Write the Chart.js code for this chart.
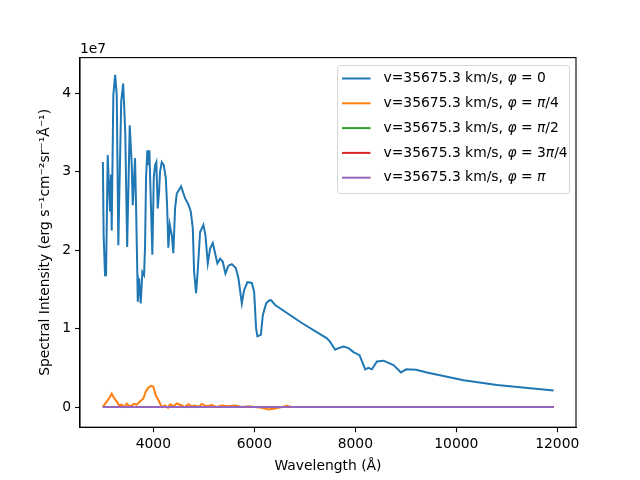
<!DOCTYPE html>
<html>
<head>
<meta charset="utf-8">
<script src="https://cdn.jsdelivr.net/npm/chart.js@4.4.1/dist/chart.umd.min.js"></script>
<style>
  html, body { margin: 0; padding: 0; background: #fff; }
  canvas { display: block; }
</style>
</head>
<body>
<canvas id="myChart" width="640" height="480"></canvas>
<script>
//* Datos (intensidad en unidades de 1e7)

var seriesNames = [
  "v=35675.3 km/s, φ = 0",
  "v=35675.3 km/s, φ = π/4",
  "v=35675.3 km/s, φ = π/2",
  "v=35675.3 km/s, φ = 3π/4",
  "v=35675.3 km/s, φ = π"
];
var seriesColors = ["#1f77b4", "#ff7f0e", "#2ca02c", "#d62728", "#9467bd"];

var xTicks = [4000, 6000, 8000, 10000, 12000];
var yTicks = [0, 1, 2, 3, 4];

var blueWave = [3000, 3015, 3043, 3063, 3096, 3142, 3162, 3175, 3207, 3243, 3275, 3306, 3363, 3402,
  3443, 3481, 3532, 3572, 3592, 3637, 3657, 3683, 3691, 3717, 3750, 3782, 3816, 3836, 3855, 3881,
  3901, 3921, 3948, 3980, 4008, 4034, 4059, 4087, 4113, 4133, 4166, 4206, 4246, 4272, 4297, 4325,
  4365, 4396, 4430, 4464, 4549, 4628, 4694, 4741, 4781, 4807, 4846, 4880, 4926, 4991, 5031, 5078,
  5124, 5177, 5223, 5268, 5322, 5375, 5427, 5487, 5554, 5633, 5685, 5752, 5798, 5863, 5950, 5996,
  6035, 6061, 6129, 6168, 6234, 6299, 6333, 6412, 6941, 7437, 7502, 7601, 7667, 7766, 7865, 7964,
  8083, 8196, 8261, 8329, 8428, 8559, 8757, 8903, 9008, 9206, 9419, 10144, 10806, 11466, 11928];
var blueFlux = [3.12, 2.19, 1.68, 1.68, 3.21, 2.49, 2.96, 2.25, 3.97, 4.23, 3.97, 2.06, 3.89, 4.12,
  3.51, 2.04, 3.59, 3.08, 2.57, 3.17, 2.57, 1.68, 1.34, 1.64, 1.32, 1.72, 1.68, 2.06, 2.92, 3.27,
  3.08, 3.27, 2.66, 1.94, 2.92, 3.08, 3.12, 2.53, 2.74, 3.00, 3.12, 3.08, 2.92, 2.57, 2.03, 2.32,
  2.19, 1.96, 2.53, 2.72, 2.81, 2.66, 2.58, 2.49, 2.28, 1.72, 1.45, 1.75, 2.23, 2.32, 2.19, 1.83,
  2.02, 2.09, 1.96, 1.83, 1.89, 1.85, 1.70, 1.80, 1.82, 1.77, 1.64, 1.32, 1.49, 1.59, 1.58, 1.47,
  1.00, 0.90, 0.92, 1.17, 1.32, 1.36, 1.36, 1.30, 1.07, 0.875, 0.83, 0.73, 0.75, 0.77, 0.75, 0.70,
  0.66, 0.48, 0.50, 0.48, 0.58, 0.59, 0.535, 0.44, 0.48, 0.475, 0.44, 0.34, 0.28, 0.24, 0.21];

var orangeWave = [3000, 3040, 3076, 3110, 3142, 3175, 3200, 3227, 3275, 3320, 3374, 3420, 3473, 3520,
  3572, 3620, 3671, 3736, 3802, 3849, 3901, 3954, 4000, 4048, 4099, 4166, 4232, 4290, 4331, 4400,
  4464, 4563, 4620, 4694, 4760, 4826, 4900, 4959, 5050, 5157, 5250, 5356, 5480, 5619, 5750, 5883,
  6010, 6148, 6279, 6412, 6545, 6644, 6743, 8000, 10000, 11928];
var orangeFlux = [0.0, 0.04, 0.07, 0.10, 0.13, 0.17, 0.14, 0.11, 0.07, 0.02, 0.03, 0.0, 0.045, 0.01,
  0.02, 0.04, 0.03, 0.07, 0.11, 0.195, 0.245, 0.27, 0.26, 0.15, 0.09, 0.0, 0.02, -0.01, 0.035, 0.01,
  0.045, 0.02, 0.0, 0.035, 0.01, 0.02, 0.0, 0.04, 0.01, 0.025, 0.0, 0.02, 0.01, 0.02, 0.0, 0.01,
  0.0, -0.01, -0.03, -0.02, 0.0, 0.015, 0.0, 0.0, 0.0, 0.0];

var flatWave = [3000, 6000, 9000, 11928];
var greenFlux = [0.0, 0.0, 0.0, 0.0];
var redFlux = [0.0, 0.0, 0.0, 0.0];
var purpleFlux = [0.0, 0.0, 0.0, 0.0];

function toPoints(xs, ys) {
  var pts = [];
  for (var i = 0; i < xs.length; i++) {
    pts.push({ x: xs[i], y: ys[i] });
  }
  return pts;
}

var FONT = "DejaVu Sans";
var FS = 13.89;

// Marco, textos de ejes, 1e7 y leyenda
var framePlugin = {
  id: "framePlugin",
  afterDraw: function (chart) {
    var ctx = chart.ctx;
    var a = chart.chartArea;
    ctx.save();
    ctx.strokeStyle = "#000";
    ctx.lineWidth = 1.1;
    ctx.strokeRect(a.left, a.top, a.right - a.left, a.bottom - a.top);

    ctx.fillStyle = "#000";
    ctx.font = FS + "px '" + FONT + "'";
    ctx.textAlign = "left";
    ctx.textBaseline = "alphabetic";
    ctx.fillText("1e7", a.left, a.top - 4.5);

    ctx.textAlign = "center";
    ctx.textBaseline = "middle";
    ctx.fillText("Wavelength (Å)", (a.left + a.right) / 2, 466);

    ctx.save();
    ctx.translate(45, (a.top + a.bottom) / 2);
    ctx.rotate(-Math.PI / 2);
    ctx.fillText("Spectral Intensity (erg s⁻¹cm⁻²sr⁻¹Å⁻¹)", 0, 0);
    ctx.restore();

    // leyenda
    var bx = 337.5, by = 65.5, bw = 232, bh = 128, r = 3;
    ctx.beginPath();
    ctx.moveTo(bx + r, by);
    ctx.arcTo(bx + bw, by, bx + bw, by + bh, r);
    ctx.arcTo(bx + bw, by + bh, bx, by + bh, r);
    ctx.arcTo(bx, by + bh, bx, by, r);
    ctx.arcTo(bx, by, bx + bw, by, r);
    ctx.closePath();
    ctx.fillStyle = "rgba(255,255,255,0.8)";
    ctx.fill();
    ctx.strokeStyle = "rgba(204,204,204,0.8)";
    ctx.lineWidth = 1;
    ctx.stroke();

    for (var i = 0; i < seriesNames.length; i++) {
      var yy = 78.5 + i * 24.8;
      ctx.strokeStyle = seriesColors[i];
      ctx.lineWidth = 2;
      ctx.beginPath();
      ctx.moveTo(342, yy);
      ctx.lineTo(370.5, yy);
      ctx.stroke();
      drawRich(ctx, seriesNames[i], 383.5, yy);
    }
    ctx.restore();
  }
};

// dibuja el texto con letras griegas en cursiva
function drawRich(ctx, text, x, y) {
  ctx.fillStyle = "#000";
  ctx.textAlign = "left";
  ctx.textBaseline = "middle";
  var cx = x;
  for (var k = 0; k < text.length; k++) {
    var ch = text[k];
    var italic = (ch === "φ" || ch === "π");
    ctx.font = (italic ? "italic " : "") + FS + "px '" + FONT + "'";
    ctx.fillText(ch, cx, y);
    cx += ctx.measureText(ch).width;
  }
}

var ctx = document.getElementById("myChart").getContext("2d");

var fluxes = [blueFlux, orangeFlux, greenFlux, redFlux, purpleFlux];
var waves = [blueWave, orangeWave, flatWave, flatWave, flatWave];
var datasets = [];
for (var s = 0; s < seriesNames.length; s++) {
  datasets.push({
    label: seriesNames[s],
    data: toPoints(waves[s], fluxes[s]),
    borderColor: seriesColors[s],
    backgroundColor: seriesColors[s],
    borderWidth: 2,
    showLine: true,
    pointRadius: 0,
    tension: 0,
    order: seriesNames.length - s
  });
}

var miGrafico = new Chart(ctx, {
  type: "scatter",
  data: { datasets: datasets },
  plugins: [framePlugin],
  options: {
    responsive: false,
    animation: false,
    devicePixelRatio: 1,
    layout: { padding: { top: 57.6, right: 64, left: 0, bottom: 0 } },
    plugins: {
      legend: { display: false },
      tooltip: { enabled: false }
    },
    scales: {
      x: {
        type: "linear",
        min: 2547,
        max: 12371,
        afterFit: function (scale) { scale.height = 52.8; },
        afterBuildTicks: function (scale) {
          scale.ticks = xTicks.map(function (v) { return { value: v }; });
        },
        grid: { drawOnChartArea: false, drawTicks: true, tickLength: 5, tickColor: "#000", tickWidth: 1.1 },
        border: { display: true, color: "#000", width: 1.1 },
        ticks: {
          color: "#000",
          padding: 4,
          maxRotation: 0,
          font: { family: FONT, size: FS },
          callback: function (v) { return String(v); }
        }
      },
      y: {
        type: "linear",
        min: -0.257,
        max: 4.451,
        afterFit: function (scale) { scale.width = 80; },
        afterBuildTicks: function (scale) {
          scale.ticks = yTicks.map(function (v) { return { value: v }; });
        },
        grid: { drawOnChartArea: false, drawTicks: true, tickLength: 5, tickColor: "#000", tickWidth: 1.1 },
        border: { display: true, color: "#000", width: 1.1 },
        ticks: {
          color: "#000",
          padding: 4,
          font: { family: FONT, size: FS },
          callback: function (v) { return String(v); }
        }
      }
    }
  }
});
</script>
</body>
</html>
